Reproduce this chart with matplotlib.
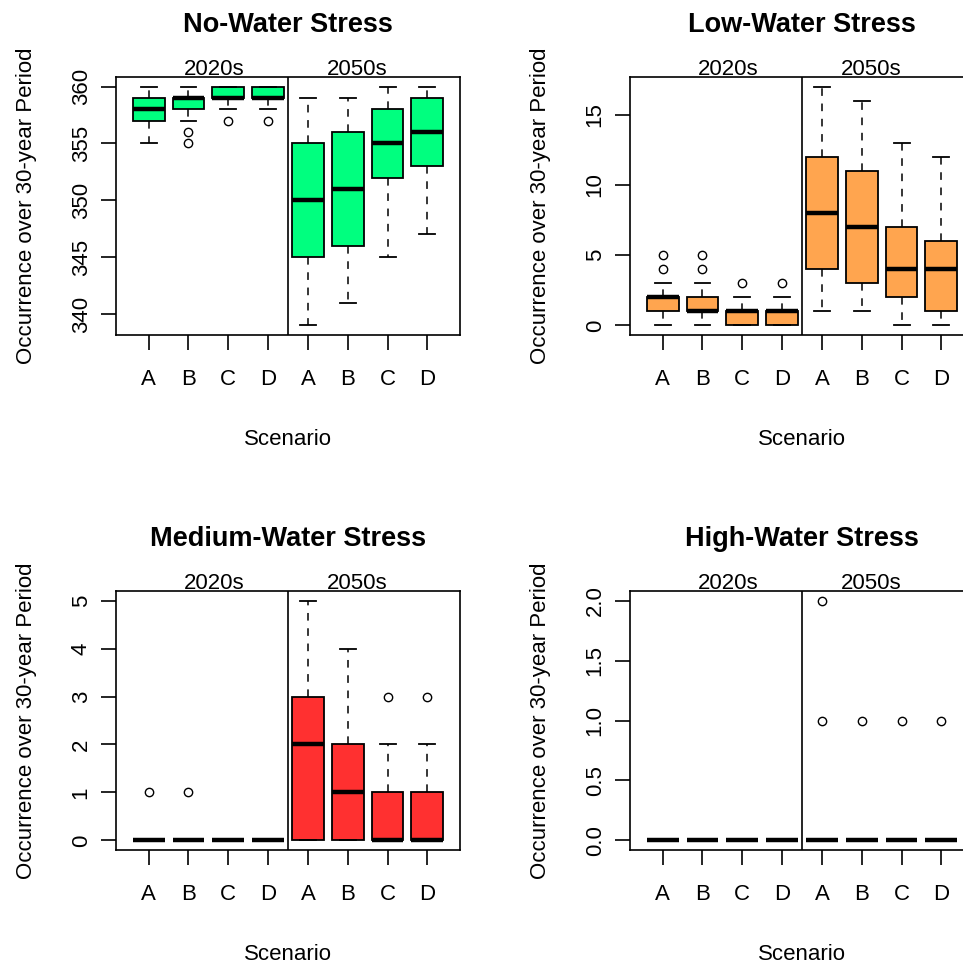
import matplotlib.pyplot as plt
from matplotlib.transforms import blended_transform_factory

plt.rcParams['font.family'] = ['Liberation Sans', 'DejaVu Sans']

scenarios = ['A', 'B', 'C', 'D', 'A', 'B', 'C', 'D']
periods = ['2020s', '2050s']

# box statistics, one list per stress class
# order: 2020s A-D, then 2050s A-D
no_med = [358, 359, 359, 359, 350, 351, 355, 356]
no_q1 = [357, 358, 359, 359, 345, 346, 352, 353]
no_q3 = [359, 359, 360, 360, 355, 356, 358, 359]
no_lo = [355, 357, 358, 358, 339, 341, 345, 347]
no_hi = [360, 360, 360, 360, 359, 359, 360, 360]
no_fl = [[], [356, 355], [357], [357], [], [], [], []]

low_med = [2, 1, 1, 1, 8, 7, 4, 4]
low_q1 = [1, 1, 0, 0, 4, 3, 2, 1]
low_q3 = [2, 2, 1, 1, 12, 11, 7, 6]
low_lo = [0, 0, 0, 0, 1, 1, 0, 0]
low_hi = [3, 3, 2, 2, 17, 16, 13, 12]
low_fl = [[4, 5], [4, 5], [3], [3], [], [], [], []]

med_med = [0, 0, 0, 0, 2, 1, 0, 0]
med_q1 = [0, 0, 0, 0, 0, 0, 0, 0]
med_q3 = [0, 0, 0, 0, 3, 2, 1, 1]
med_lo = [0, 0, 0, 0, 0, 0, 0, 0]
med_hi = [0, 0, 0, 0, 5, 4, 2, 2]
med_fl = [[1], [1], [], [], [], [], [3], [3]]

high_med = [0, 0, 0, 0, 0, 0, 0, 0]
high_q1 = [0, 0, 0, 0, 0, 0, 0, 0]
high_q3 = [0, 0, 0, 0, 0, 0, 0, 0]
high_lo = [0, 0, 0, 0, 0, 0, 0, 0]
high_hi = [0, 0, 0, 0, 0, 0, 0, 0]
high_fl = [[], [], [], [], [1, 2], [1], [1], [1]]

panels = [
    ('No-Water Stress', '#00FF7F', no_med, no_q1, no_q3, no_lo, no_hi, no_fl, [340, 345, 350, 355, 360], '{:.0f}'),
    ('Low-Water Stress', '#FFA54F', low_med, low_q1, low_q3, low_lo, low_hi, low_fl, [0, 5, 10, 15], '{:.0f}'),
    ('Medium-Water Stress', '#FF3030', med_med, med_q1, med_q3, med_lo, med_hi, med_fl, [0, 1, 2, 3, 4, 5], '{:.0f}'),
    ('High-Water Stress', '#FFA54F', high_med, high_q1, high_q3, high_lo, high_hi, high_fl, [0, 0.5, 1.0, 1.5, 2.0], '{:.1f}'),
]

W, H = 963, 965
# frame boxes in pixels (left, top, right, bottom); right column runs off the edge
frames = [(116, 77, 460, 335), (630, 77, 974, 335),
          (116, 591, 460, 850), (630, 591, 974, 850)]

fig = plt.figure(figsize=(W / 100, H / 100), dpi=100)
px = 72 / 100  # points per pixel
fs = 16

for (title, color, md, q1, q3, lo, hi, fl, yticks, fmt), (l, t, r, b) in zip(panels, frames):
    ax = fig.add_axes([l / W, 1 - b / H, (r - l) / W, (b - t) / H])
    stats = []
    for i in range(len(scenarios)):
        stats.append({'med': md[i], 'q1': q1[i], 'q3': q3[i],
                      'whislo': lo[i], 'whishi': hi[i], 'fliers': fl[i]})
    pos = list(range(1, len(scenarios) + 1))
    ax.bxp(stats, positions=pos, widths=0.8, capwidths=0.4, patch_artist=True,
           boxprops=dict(facecolor=color, edgecolor='black', linewidth=1.3),
           medianprops=dict(color='black', linewidth=3.2, solid_capstyle='butt'),
           whiskerprops=dict(color='black', linewidth=1.1, linestyle=(0, (5, 5))),
           capprops=dict(color='black', linewidth=1.3),
           flierprops=dict(marker='o', markerfacecolor='none', markeredgecolor='black',
                           markersize=6, markeredgewidth=1.0),
           manage_ticks=False)

    # R-style 4% padding around the data range
    vals = lo + hi + [v for f in fl for v in f]
    ymin, ymax = min(vals), max(vals)
    pad = (ymax - ymin) * 0.04
    ax.set_ylim(ymin - pad, ymax + pad)
    ax.set_xlim(0.5 - 0.32, len(scenarios) + 0.5 + 0.32)
    ax.axvline(4.5, color='black', linewidth=1.2)

    ax.set_xticks(pos)
    ax.set_xticklabels(scenarios)
    ax.set_yticks(yticks)
    ax.set_yticklabels([fmt.format(v) for v in yticks], rotation=90, va='center')
    ax.tick_params(axis='both', direction='out', length=10.5, width=1.2,
                   labelsize=fs, colors='black')
    ax.tick_params(axis='x', pad=14)
    ax.tick_params(axis='y', pad=7)
    for sp in ax.spines.values():
        sp.set_linewidth(1.2)

    trans = blended_transform_factory(ax.transData, ax.transAxes)
    for per, xc in zip(periods, [2.65, 6.25]):
        ax.annotate(per, xy=(xc, 1.0), xycoords=trans, xytext=(0, 2 * px),
                    textcoords='offset points', ha='center', va='baseline', fontsize=fs)

    ax.annotate(title, xy=(0.5, 1.0), xycoords='axes fraction', xytext=(0, 45 * px),
                textcoords='offset points', ha='center', va='baseline',
                fontsize=19.5, fontweight='bold')
    ax.annotate('Scenario', xy=(0.5, 0.0), xycoords='axes fraction', xytext=(0, -110 * px),
                textcoords='offset points', ha='center', va='baseline', fontsize=fs)
    ax.annotate('Occurrence over 30-year Period', xy=(0.0, 0.5), xycoords='axes fraction',
                xytext=(-84 * px, 0), textcoords='offset points', ha='center', va='baseline',
                rotation=90, rotation_mode='anchor', fontsize=fs)

fig.savefig('out.png', dpi=100)
plt.close(fig)
